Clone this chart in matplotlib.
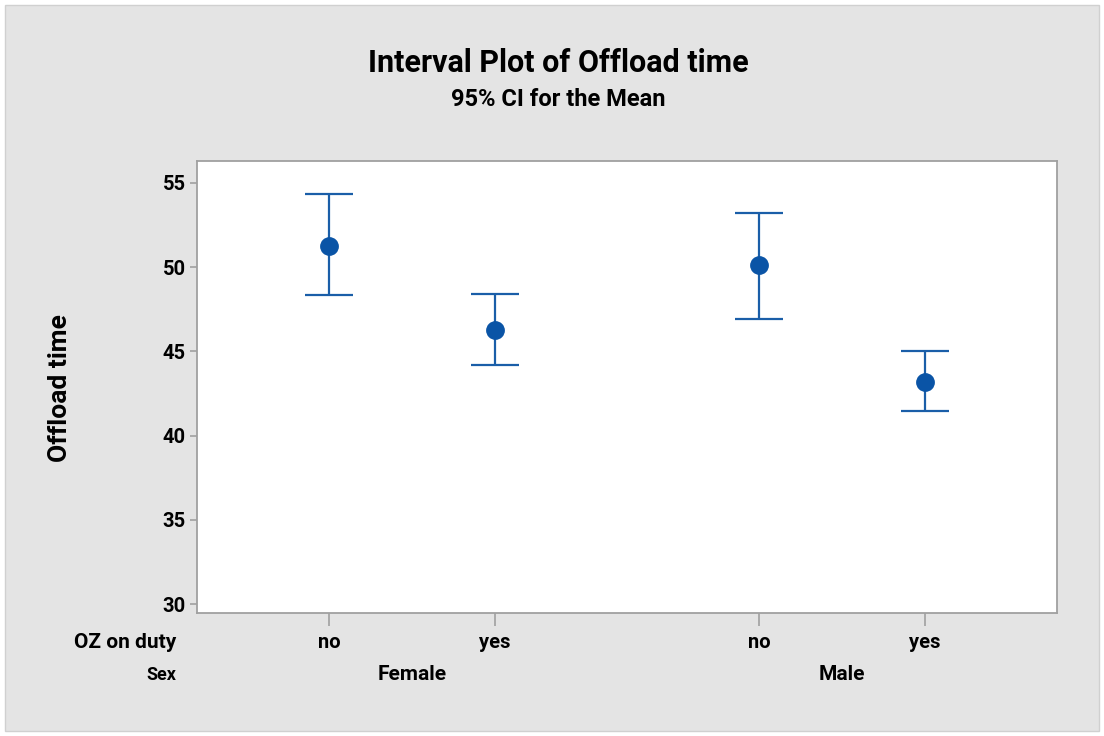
import matplotlib
matplotlib.use("Agg")
import matplotlib.pyplot as plt
from matplotlib.patches import Rectangle

# ---- data ----
sex_groups = ["Female", "Male"]
oz_levels = ["no", "yes"]
means = [51.24, 46.24, 50.10, 43.15]
upper = [54.33, 48.41, 53.20, 45.00]
lower = [48.32, 44.18, 46.91, 41.45]
y_ticks = [30, 35, 40, 45, 50, 55]

title = "Interval Plot of Offload time"
subtitle = "95% CI for the Mean"
ylabel = "Offload time"

plt.rcParams['font.family'] = ['Roboto', 'DejaVu Sans']

BG = "#e4e4e4"
BLUE = "#0a54a6"
GRAY = "#a0a0a0"

fig = plt.figure(figsize=(11.04, 7.36), dpi=100)
fig.patch.set_facecolor("white")
fig.patches.append(Rectangle((5/1104, 5/736), 1 - 10/1104, 1 - 10/736,
                             transform=fig.transFigure, facecolor=BG,
                             edgecolor="#d0d0d0", linewidth=1, zorder=-10))

ax = fig.add_axes([197/1104, 1 - 613/736, (1057-197)/1104, (613-161)/736])
ax.set_facecolor("white")

group_gap = 1.6
xpos = []
for gi, g in enumerate(sex_groups):
    for li, l in enumerate(oz_levels):
        xpos.append(gi * (len(oz_levels) - 1 + group_gap) + li)

yerr = [[m - lo for m, lo in zip(means, lower)], [u - m for m, u in zip(means, upper)]]
ax.errorbar(xpos, means, yerr=yerr, fmt="o", color=BLUE, ecolor="#1a5ea8",
            elinewidth=1.6, capsize=17, capthick=1.6, markersize=12.5, zorder=3)

ax.set_xlim(-0.8, xpos[-1] + 0.8)
ax.set_ylim(29.47, 56.29)
ax.set_yticks(y_ticks)
ax.set_yticklabels([str(t) for t in y_ticks], fontsize=14.5, fontweight="bold")
ax.set_xticks(xpos)
ax.set_xticklabels([])
for s in ax.spines.values():
    s.set_color(GRAY)
    s.set_linewidth(1.3)
ax.tick_params(axis="y", direction="out", length=5, color=GRAY, width=1.2, pad=3)
ax.tick_params(axis="x", direction="out", length=9, color=GRAY, width=1.2)

# x labels
for x, lab in zip(xpos, oz_levels * len(sex_groups)):
    ax.annotate(lab, xy=(x, 0), xycoords=("data", "axes fraction"),
                xytext=(0, -30), textcoords="offset pixels",
                ha="center", va="center", fontsize=14.5, fontweight="bold")
for gi, g in enumerate(sex_groups):
    xc = (xpos[gi*2] + xpos[gi*2+1]) / 2
    ax.annotate(g, xy=(xc, 0), xycoords=("data", "axes fraction"),
                xytext=(0, -62), textcoords="offset pixels",
                ha="center", va="center", fontsize=15, fontweight="bold")

fig.text(176/1104, 1 - 643/736, "OZ on duty", ha="right", va="center",
         fontsize=15, fontweight="bold")
fig.text(176/1104, 1 - 675/736, "Sex", ha="right", va="center",
         fontsize=13, fontweight="bold")

fig.text(558/1104, 1 - 63/736, title, ha="center", va="center",
         fontsize=22, fontweight="bold")
fig.text(558/1104, 1 - 100/736, subtitle, ha="center", va="center",
         fontsize=17, fontweight="bold")
fig.text(60/1104, 1 - 388/736, ylabel, ha="center", va="center",
         rotation=90, fontsize=19, fontweight="bold")

fig.savefig("out.png", dpi=100, facecolor=fig.get_facecolor())
